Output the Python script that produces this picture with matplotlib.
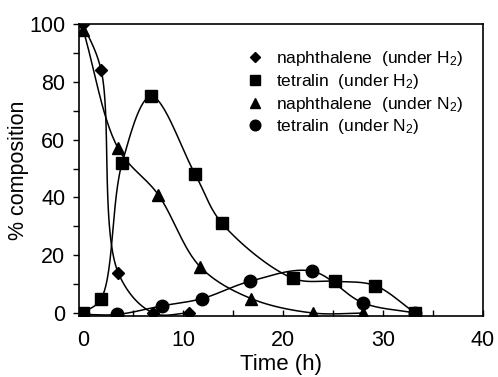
import numpy as np
import matplotlib
matplotlib.use("Agg")
import matplotlib.pyplot as plt

plt.rcParams['font.family'] = ['Liberation Sans', 'DejaVu Sans']
plt.rcParams['mathtext.fontset'] = 'custom'
plt.rcParams['mathtext.rm'] = 'Liberation Sans'
plt.rcParams['mathtext.default'] = 'rm'

# данные
naph_h2_t = [0, 1.8, 3.5, 7.0, 10.6]
naph_h2_y = [100, 84, 14, 0, 0]

tetr_h2_t = [0, 1.8, 3.9, 6.8, 11.2, 13.9, 21.0, 25.2, 29.2, 33.2]
tetr_h2_y = [0, 5, 52, 75, 48, 31, 12, 11, 9.5, 0]

naph_n2_t = [0, 3.5, 7.5, 11.7, 16.8, 23.0, 28.0]
naph_n2_y = [98, 57, 41, 16, 5, 0, 0]

tetr_n2_t = [0, 3.4, 7.9, 11.9, 16.7, 22.9, 28.0, 33.2]
tetr_n2_y = [-0.5, -0.5, 2.5, 5, 11, 14.5, 3.5, 0]

labels = ['naphthalene  (under H$_2$)', 'tetralin  (under H$_2$)',
          'naphthalene  (under N$_2$)', 'tetralin  (under N$_2$)']


def smooth(t, y, sx=10.0, sy=2.9, n=30):
    # центростремительный сплайн Катмулла-Рома, считается в "пиксельном" масштабе
    p = np.column_stack([np.asarray(t, float) * sx, np.asarray(y, float) * sy])
    p = np.vstack([2 * p[0] - p[1], p, 2 * p[-1] - p[-2]])
    out = []
    for i in range(1, len(p) - 2):
        p0, p1, p2, p3 = p[i - 1], p[i], p[i + 1], p[i + 2]
        t0 = 0.0
        t1 = t0 + np.linalg.norm(p1 - p0) ** 0.5
        t2 = t1 + np.linalg.norm(p2 - p1) ** 0.5
        t3 = t2 + np.linalg.norm(p3 - p2) ** 0.5
        tt = np.linspace(t1, t2, n)[:, None]
        a1 = (t1 - tt) / (t1 - t0) * p0 + (tt - t0) / (t1 - t0) * p1
        a2 = (t2 - tt) / (t2 - t1) * p1 + (tt - t1) / (t2 - t1) * p2
        a3 = (t3 - tt) / (t3 - t2) * p2 + (tt - t2) / (t3 - t2) * p3
        b1 = (t2 - tt) / (t2 - t0) * a1 + (tt - t0) / (t2 - t0) * a2
        b2 = (t3 - tt) / (t3 - t1) * a2 + (tt - t1) / (t3 - t1) * a3
        c = (t2 - tt) / (t2 - t1) * b1 + (tt - t1) / (t2 - t1) * b2
        out.append(c)
    c = np.vstack(out)
    return c[:, 0] / sx, c[:, 1] / sy


fig = plt.figure(figsize=(4.98, 3.77), dpi=100)
ax = fig.add_axes([0.159, 0.162, 0.811, 0.774])

series = [
    (naph_h2_t, naph_h2_y, 'D', 6.5),
    (tetr_h2_t, tetr_h2_y, 's', 9),
    (naph_n2_t, naph_n2_y, '^', 9),
    (tetr_n2_t, tetr_n2_y, 'o', 9),
]
handles = []
for (t, y, m, ms), lab in zip(series, labels):
    xs, ys = smooth(t, y)
    ax.plot(xs, ys, '-', color='black', linewidth=1.1)
    h, = ax.plot(t, y, linestyle='none', marker=m, markersize=ms,
                 color='black', label=lab)
    handles.append(h)

ax.set_xlim(-0.4, 40)
ax.set_ylim(-1, 100)
ax.set_xticks([0, 10, 20, 30, 40])
ax.set_xticks([5, 15, 25, 35], minor=True)
ax.set_yticks([0, 20, 40, 60, 80, 100])
ax.set_yticks([10, 30, 50, 70, 90], minor=True)
ax.tick_params(axis='x', which='both', direction='in', length=4, width=1,
               labelsize=15.5, pad=10)
ax.tick_params(axis='y', which='both', direction='out', length=4, width=1,
               labelsize=15.5, pad=6)
for s in ax.spines.values():
    s.set_linewidth(1.2)

ax.set_xlabel('Time (h)', fontsize=16, labelpad=2)
ax.set_ylabel('% composition', fontsize=15.5, labelpad=0)

ax.legend(handles=handles, loc='upper left', frameon=False,
          bbox_to_anchor=(246 / 498, 1 - 49 / 377),
          bbox_transform=fig.transFigure, borderpad=0, borderaxespad=0,
          handlelength=1.0, handletextpad=0.75, labelspacing=0.22,
          fontsize=12.5, markerscale=0.85)

fig.savefig('out.png', dpi=100)
